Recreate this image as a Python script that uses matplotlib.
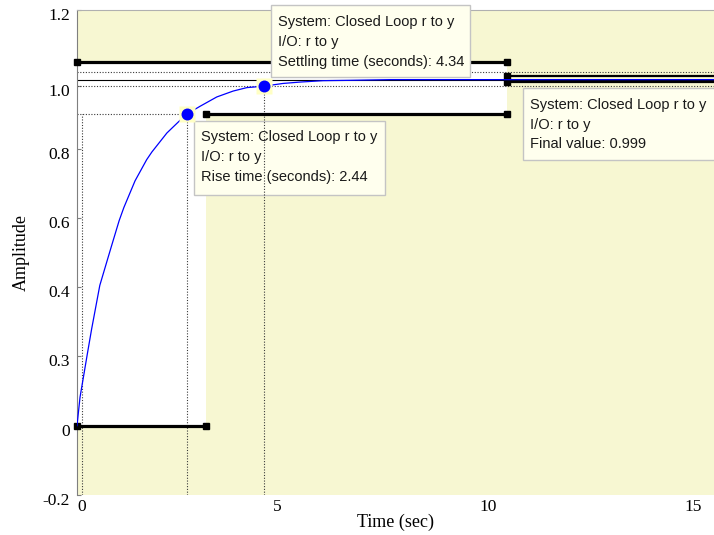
import matplotlib
matplotlib.use("Agg")
import matplotlib.pyplot as plt
from matplotlib.patches import Rectangle, Polygon
from matplotlib.transforms import Affine2D, ScaledTranslation

# Step response of the closed loop r -> y
time = [0, 0.07, 0.24, 0.34, 0.53, 0.69, 0.81, 0.98, 1.09, 1.35, 1.62, 1.74,
        2.09, 2.40, 2.56, 2.86, 3.25, 3.63, 3.95, 4.34, 4.79, 5.19, 5.72,
        6.35, 7.28, 10.0, 14.81]
amplitude = [0, 0.082, 0.207, 0.279, 0.405, 0.472, 0.522, 0.592, 0.630,
             0.707, 0.768, 0.790, 0.845, 0.882, 0.900, 0.922, 0.949, 0.966,
             0.976, 0.980, 0.988, 0.992, 0.996, 0.997, 0.999, 0.999, 0.999]

# Response characteristics
rise_start = 0.12
rise_time = 2.44
rise_level = 0.9
settling_time = 4.34
settling_band = [0.98, 1.02]
final_value = 0.999
final_band = [1.009, 0.992]

# Bracket segments (x from, x to, level)
bracket_x = [[0, 10], [3, 10], [0, 3]]
bracket_y = [1.05, 0.9, 0.0]

# Ticks
xtick_pos = [0.12, 4.65, 9.56, 14.33]
xtick_labels = ["0", "5", "10", "15"]
ytick_pos = [-0.2, 0.0, 0.2, 0.4, 0.6, 0.8, 0.98, 1.2]
ytick_labels = ["-0.2", "0", "0.3", "0.4", "0.6", "0.8", "1.0", "1.2"]

system_name = "System: Closed Loop r to y"
io_name = "I/O: r to y"

W, H = 714, 535
fig = plt.figure(figsize=(W / 100, H / 100), dpi=100)
ax = fig.add_axes([77 / W, 40 / H, 637 / W, 485 / H])
ax.set_facecolor("#F7F7D2")
ax.set_xlim(0, 14.81)
ax.set_ylim(-0.2, 1.2)

serif = "Liberation Serif"
sans = "Liberation Sans"
dot = (0, (1, 1.5))
dotc = "#3a3a3a"

# white characteristic region
ax.add_patch(Polygon([(0, bracket_y[0]), (10, bracket_y[0]), (10, bracket_y[1]),
                      (3, bracket_y[1]), (3, bracket_y[2]), (0, bracket_y[2])],
                     closed=True, facecolor="white", edgecolor="none", zorder=0.5))

rise_end = rise_start + rise_time
xmax = ax.get_xlim()[1]

# dotted guide lines
for lvl in settling_band:
    ax.plot([0, xmax], [lvl, lvl], color=dotc, lw=0.8, ls=dot, zorder=2)
ax.plot([0, rise_end], [rise_level, rise_level], color=dotc, lw=0.8, ls=dot, zorder=2)
ax.plot([rise_start, rise_start], [-0.2, rise_level], color=dotc, lw=0.8, ls=dot, zorder=2)
ax.plot([rise_end, rise_end], [-0.2, rise_level], color=dotc, lw=0.8, ls=dot, zorder=2)
ax.plot([settling_time, settling_time], [-0.2, settling_band[0]], color=dotc, lw=0.8,
        ls=dot, zorder=2)

# final value line
ax.plot([0, xmax], [final_value, final_value], color="black", lw=0.8, zorder=2)

# thick bracket segments
for xs, lvl in zip(bracket_x, bracket_y):
    ax.plot(xs, [lvl, lvl], color="black", lw=2.3, marker="s", markersize=4.5,
            zorder=3, solid_capstyle="butt", clip_on=False)
for lvl in final_band:
    ax.plot([10, xmax], [lvl, lvl], color="black", lw=1.6, zorder=3)
    ax.plot([10], [lvl], color="black", marker="s", markersize=4.5, zorder=3)

# response curve
ax.plot(time, amplitude, color="#0000FF", lw=0.9, zorder=4)

# characteristic markers
for mx, my in [(rise_end, rise_level), (settling_time, settling_band[0])]:
    ax.plot([mx], [my], marker="s", markersize=11, color="#FFFFC4", mec="none", zorder=5)
    ax.plot([mx], [my], marker="o", markersize=8.6, color="#0000FF", mec="none", zorder=6)

# ticks and spines
ax.set_xticks(xtick_pos)
ax.set_xticklabels(xtick_labels, fontfamily=serif, fontsize=12.5)
ax.set_yticks(ytick_pos)
ax.set_yticklabels(ytick_labels, fontfamily=serif, fontsize=12.5)
ax.tick_params(axis="x", length=0, pad=3)
ax.tick_params(axis="y", direction="in", length=3, color="#7f7f7f", pad=5)
for lab in ax.get_yticklabels():
    lab.set_transform(lab.get_transform() + ScaledTranslation(0, -4 / 100, fig.dpi_scale_trans))
ax.spines["bottom"].set_visible(False)
ax.spines["right"].set_visible(False)
ax.spines["left"].set_color("#7f7f7f")
ax.spines["top"].set_color("#b0b0b0")
ax.spines["top"].set_linewidth(0.8)

ax.set_xlabel("Time (sec)", fontfamily=serif, fontsize=13)
ax.xaxis.set_label_coords(0.5, (495 - 514) / 485)
ax.set_ylabel("Amplitude", fontfamily=serif, fontsize=13)
ax.yaxis.label.set_va("center")
ax.yaxis.set_label_coords((21 - 77) / 637, 0.5)

# data tips (pixel coordinates from the top-left corner)
px = Affine2D().scale(1, -1).translate(0, H)


def data_tip(left, top, right, bottom, lines, z):
    ax.add_patch(Rectangle((left, bottom), right - left, top - bottom, transform=px,
                           facecolor="#FFFFEE", edgecolor="#c4c4c4", lw=1.0,
                           zorder=z, clip_on=False))
    for i, s in enumerate(lines):
        ax.text(left + 7, top + 17 + 20 * i, s, transform=px, fontfamily=sans,
                fontsize=10.5, color="#1a1a1a", va="center", ha="left",
                zorder=z + 0.1, clip_on=False)


data_tip(270.5, 5, 470, 77, [system_name, io_name,
                              f"Settling time (seconds): {settling_time:.2f}"], 7)
data_tip(194, 120.5, 384.5, 194.5, [system_name, io_name,
                                    f"Rise time (seconds): {rise_time:.2f}"], 1.5)
data_tip(522.5, 87.5, 716, 159.5, [system_name, io_name,
                                   f"Final value: {final_value:.3f}"], 7)

fig.savefig("out.png", dpi=100)
